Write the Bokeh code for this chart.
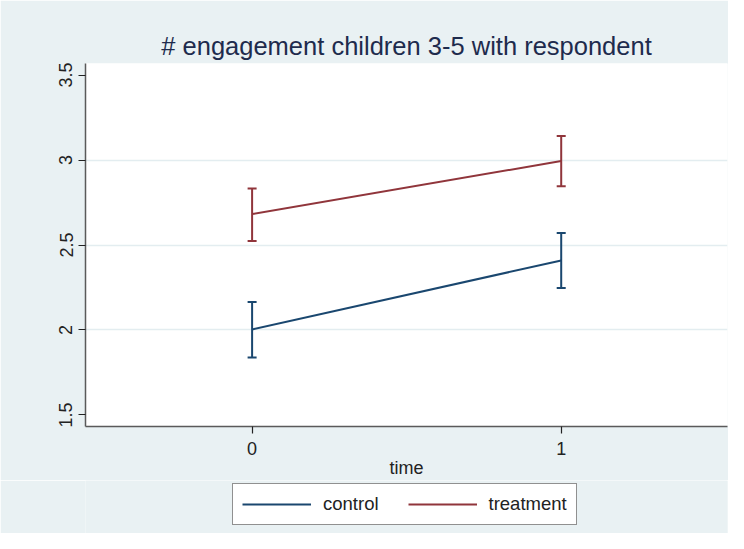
from bokeh.plotting import figure
from bokeh.layouts import column
from bokeh.models import Range1d, FixedTicker, Legend, LegendItem, Title
from bokeh.embed import file_html
from bokeh.resources import INLINE

# ---- data ----
time = [0, 1]
control_mean = [2.003, 2.409]
control_lo = [1.838, 2.247]
control_hi = [2.165, 2.571]
treatment_mean = [2.682, 2.994]
treatment_lo = [2.524, 2.846]
treatment_hi = [2.833, 3.141]
x_ticks = [0, 1]
y_ticks = [1.5, 2, 2.5, 3, 3.5]
y_tick_labels = ["1.5", "2", "2.5", "3", "3.5"]
grid_ticks = [2, 2.5, 3]
series_names = ["control", "treatment"]
title_text = "# engagement children 3-5 with respondent"
x_title = "time"

NAVY = "#1a476f"
MAROON = "#90353b"
BG = "#E9F1F3"
FONT = "Liberation Sans"

series = [(control_mean, control_lo, control_hi, NAVY),
          (treatment_mean, treatment_lo, treatment_hi, MAROON)]

p = figure(width=728, height=480, output_backend="svg", toolbar_location=None,
           x_range=Range1d(-0.539, 1.538), y_range=Range1d(1.432, 3.568),
           min_border_left=85, min_border_right=1, min_border_top=63,
           min_border_bottom=52)
p.border_fill_color = BG
p.background_fill_color = "white"
p.outline_line_color = None

t = Title(text=title_text, align="center", text_font_size="25.5px",
          text_font=FONT, text_font_style="normal", text_color="#1e2b4d",
          standoff=8)
p.add_layout(t, "above")

# grids
p.xgrid.visible = False
p.ygrid.ticker = FixedTicker(ticks=grid_ticks)
p.ygrid.grid_line_color = "#E3EDF0"
p.ygrid.grid_line_width = 1.5

# axes
p.xaxis.ticker = FixedTicker(ticks=x_ticks)
p.yaxis.ticker = FixedTicker(ticks=y_ticks)
p.yaxis.major_label_overrides = {v: s for v, s in zip(y_ticks, y_tick_labels)}
p.yaxis.major_label_orientation = "vertical"
p.xaxis.axis_label = x_title
for ax in (p.xaxis, p.yaxis):
    ax.axis_line_color = "#5a5a5a"
    ax.axis_line_width = 1.5
    ax.major_tick_line_color = "#222222"
    ax.major_tick_line_width = 1.2
    ax.major_tick_out = 7
    ax.major_tick_in = 0
    ax.minor_tick_line_color = None
    ax.major_label_text_font = FONT
    ax.major_label_text_font_size = "18px"
    ax.major_label_text_color = "#222222"
    ax.axis_label_text_font = FONT
    ax.axis_label_text_font_size = "18px"
    ax.axis_label_text_font_style = "normal"
    ax.axis_label_text_color = "#222222"
p.xaxis.major_label_standoff = 8
p.xaxis.axis_label_standoff = 0
p.yaxis.major_label_standoff = 6

for mean, lo, hi, color in series:
    p.segment(x0=time, y0=lo, x1=time, y1=hi, line_color=color, line_width=2)
    p.scatter(x=time, y=lo, marker="dash", size=9, line_color=color, line_width=2)
    p.scatter(x=time, y=hi, marker="dash", size=9, line_color=color, line_width=2)
    p.line(x=time, y=mean, line_color=color, line_width=2)

# legend strip below the chart (its ranges keep the key's lines out of view)
pl = figure(width=728, height=53, output_backend="svg", toolbar_location=None,
            x_axis_type=None, y_axis_type=None,
            x_range=Range1d(-0.539, 1.538), y_range=Range1d(10, 11),
            min_border_left=85, min_border_right=1, min_border_top=0,
            min_border_bottom=0)
pl.border_fill_color = BG
pl.background_fill_color = BG
pl.outline_line_color = None
pl.grid.visible = False
leg_renderers = [pl.line(x=time, y=mean, line_color=color, line_width=2)
                 for mean, lo, hi, color in series]

legend = Legend(items=[LegendItem(label=n, renderers=[r]) for n, r in zip(series_names, leg_renderers)],
                orientation="horizontal", location=(147, 8),
                glyph_width=69, glyph_height=20, label_standoff=12, spacing=29,
                padding=9, margin=0,
                label_text_font=FONT, label_text_font_size="18.5px",
                label_text_color="#222222",
                border_line_color="#222222", border_line_width=1,
                background_fill_color="white", background_fill_alpha=1.0)
pl.add_layout(legend, "center")

layout = column(p, pl, spacing=0)
open("out.html", "w").write(file_html(layout, INLINE))
